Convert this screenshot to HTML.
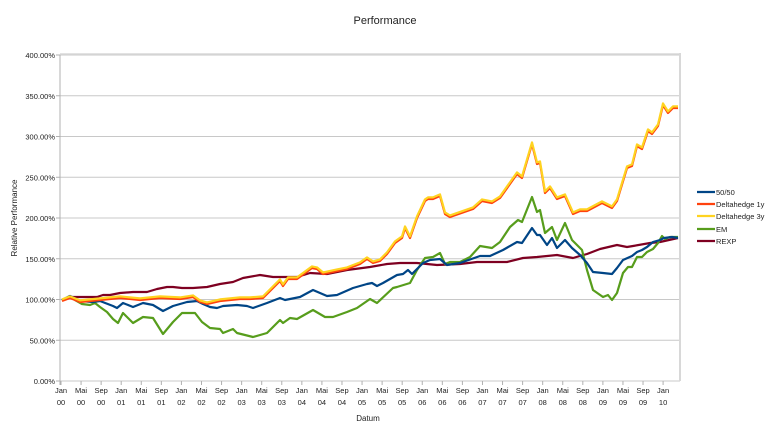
<!DOCTYPE html>
<html><head><meta charset="utf-8"><style>
body{margin:0;background:#fff;}
svg{display:block;font-family:"Liberation Sans",sans-serif;}
</style></head><body>
<svg id="s" width="770" height="434" viewBox="0 0 770 434">
<rect width="770" height="434" fill="#fff"/>
<text x="385" y="24" font-size="11" text-anchor="middle" fill="#222">Performance</text>
<g id="grid"></g>
<g id="series" fill="none" stroke-width="2.2" stroke-linejoin="round"></g>
<text transform="translate(17,218) rotate(-90)" font-size="8" text-anchor="middle" fill="#222">Relative Performance</text>
<text x="368" y="421" font-size="8" text-anchor="middle" fill="#222">Datum</text>
<g font-size="7.5" fill="#222">
<line x1="697" y1="192" x2="715" y2="192" stroke="#004586" stroke-width="2.2"/><text x="716" y="195">50/50</text>
<line x1="697" y1="204" x2="715" y2="204" stroke="#ff420e" stroke-width="2.2"/><text x="716" y="207">Deltahedge 1y</text>
<line x1="697" y1="216" x2="715" y2="216" stroke="#ffd320" stroke-width="2.2"/><text x="716" y="219">Deltahedge 3y</text>
<line x1="697" y1="229" x2="715" y2="229" stroke="#579d1c" stroke-width="2.2"/><text x="716" y="232">EM</text>
<line x1="697" y1="241" x2="715" y2="241" stroke="#7e0021" stroke-width="2.2"/><text x="716" y="244">REXP</text>
</g>
</svg>
<script>
var NS="http://www.w3.org/2000/svg",g=document.getElementById("grid"),se=document.getElementById("series");
function el(t,a,p,txt){var e=document.createElementNS(NS,t);for(var k in a)e.setAttribute(k,a[k]);if(txt)e.textContent=txt;p.appendChild(e);return e;}
var labs=["0.00%","50.00%","100.00%","150.00%","200.00%","250.00%","300.00%","350.00%","400.00%"];
for(var i=0;i<9;i++){var y=381-i*40.75;
 el("line",{x1:60,x2:680,y1:y,y2:y,stroke:"#c8c8c8","stroke-width":1},g);
 el("line",{x1:56,x2:60,y1:y,y2:y,stroke:"#b0b0b0","stroke-width":1},g);
 el("text",{x:55,y:y+3,"font-size":7.5,"text-anchor":"end",fill:"#222"},g,labs[i]);}
el("line",{x1:60,x2:60,y1:55,y2:385,stroke:"#b0b0b0","stroke-width":1},g);
el("line",{x1:680,x2:680,y1:53,y2:381,stroke:"#d8d8d8","stroke-width":2},g);
el("line",{x1:60,x2:680,y1:54,y2:54,stroke:"#d8d8d8","stroke-width":1.5},g);
var mon=["Jan","Mai","Sep"];
for(var k=0;k<=30;k++){var x=61+20.07*k;
 el("line",{x1:x,x2:x,y1:381,y2:385,stroke:"#b0b0b0","stroke-width":1},g);
 var yr=Math.floor(k/3);
 el("text",{x:x,y:393,"font-size":7.5,"text-anchor":"middle",fill:"#222"},g,mon[k%3]);
 el("text",{x:x,y:405,"font-size":7.5,"text-anchor":"middle",fill:"#222"},g,(yr<10?"0":"")+yr);}
var Y=[[62,300],[70,297],[80,301],[100,299],[120,297],[140,299],[160,297],[180,298],[193,296],[200,301],[207,303],[220,300],[240,298],[250,298],[263,297],[273,287],[280,280],[283,285],[288,278],[297,278],[312,267],[317,268],[323,273],[337,270],[347,268],[360,263],[367,258],[373,262],[380,260],[387,253],[395,242],[402,237],[405,227],[410,237],[417,217],[425,200],[428,198],[433,198],[440,195],[445,213],[450,216],[473,208],[482,200],[492,202],[500,197],[517,173],[522,177],[532,143],[537,163],[540,162],[545,192],[550,187],[557,198],[565,195],[573,213],[580,210],[587,210],[602,202],[612,207],[617,200],[620,190],[627,167],[632,165],[637,145],[642,148],[648,130],[652,133],[658,125],[663,104],[668,112],[673,107],[678,107]];
var B=[[62,300],[70,296],[80,301],[93,302],[100,301],[113,306],[117,308],[123,303],[133,307],[143,303],[153,305],[163,311],[173,306],[187,302],[197,301],[203,304],[210,307],[217,308],[223,306],[237,305],[247,306],[253,308],[267,303],[280,298],[285,300],[300,297],[313,290],[327,296],[337,295],[353,288],[367,284],[372,283],[377,286],[383,283],[397,275],[403,274],[408,270],[412,274],[423,263],[430,260],[440,259],[447,265],[460,263],[480,256],[490,256],[503,250],[517,242],[522,243],[532,228],[537,235],[540,235],[547,245],[552,238],[557,248],[565,240],[572,248],[580,255],[587,263],[593,272],[603,273],[612,274],[617,268],[623,260],[632,256],[637,252],[642,250],[647,247],[653,242],[660,240],[664,238],[672,237],[678,238]];
var G=[[62,300],[70,296],[75,300],[82,304],[90,305],[95,303],[100,307],[107,312],[113,319],[118,323],[123,313],[133,323],[143,317],[153,318],[163,334],[173,322],[182,313],[195,313],[202,322],[210,328],[220,329],[223,333],[233,329],[237,333],[253,337],[267,333],[280,320],[283,323],[290,318],[297,319],[313,310],[325,317],[333,317],[347,312],[357,308],[370,299],[377,303],[393,288],[397,287],[410,283],[417,270],[425,258],[433,257],[440,253],[445,264],[450,262],[460,262],[470,257],[480,246],[492,248],[500,242],[510,227],[518,220],[522,222],[532,197],[537,212],[540,210],[545,233],[552,227],[557,240],[565,223],[572,240],[582,250],[587,270],[593,290],[603,297],[608,295],[612,300],[617,293],[623,273],[628,267],[632,267],[637,257],[642,257],[647,252],[653,249],[658,243],[662,236],[665,239],[670,237],[678,237]];
var R=[[62,300],[70,297],[97,297],[103,295],[110,295],[120,293],[133,292],[147,292],[157,289],[167,287],[173,287],[182,288],[193,288],[207,287],[220,284],[233,282],[243,278],[260,275],[273,277],[297,277],[310,273],[327,274],[347,270],[370,267],[387,264],[400,263],[417,263],[437,265],[460,264],[477,262],[507,262],[523,258],[537,257],[557,255],[573,258],[587,254],[600,249],[617,245],[627,247],[633,246],[650,243],[660,242],[678,238]];
function pl(a,c,dy){el("polyline",{points:a.map(function(p){return p[0]+","+(p[1]+dy)}).join(" "),stroke:c},se);}
pl(R,"#7e0021",0);pl(G,"#579d1c",0);pl(B,"#004586",0);pl(Y,"#ff420e",1);pl(Y,"#ffd320",-0.6);
</script>
</body></html>
